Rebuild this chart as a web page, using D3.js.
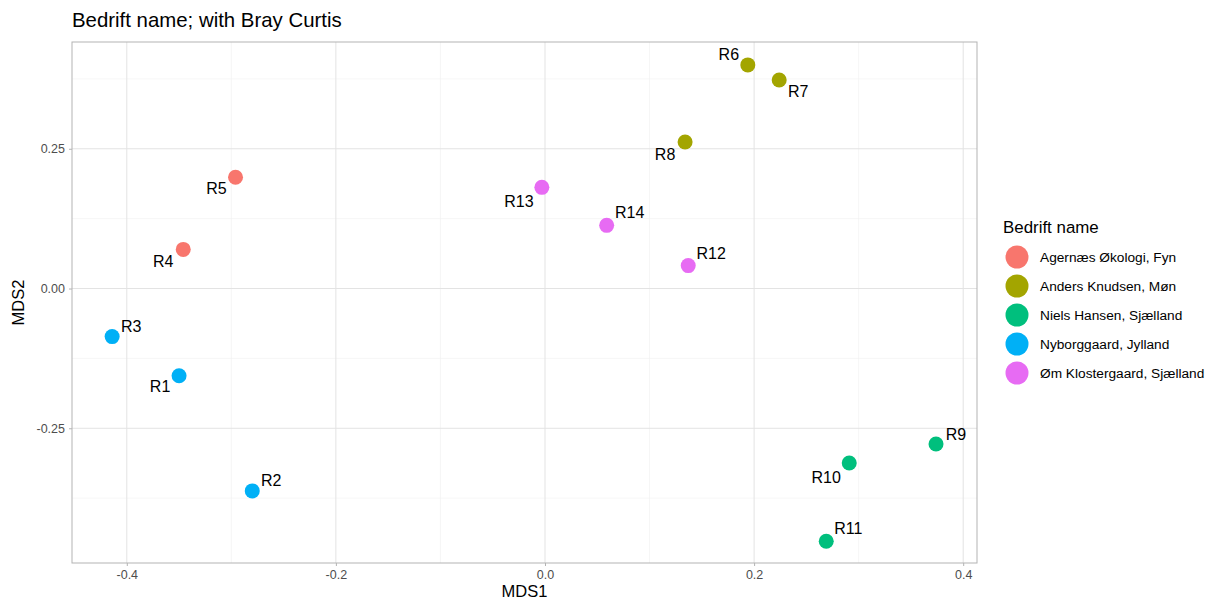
<!DOCTYPE html>
<html><head><meta charset="utf-8">
<script src="https://cdn.jsdelivr.net/npm/d3@7"></script>
<style>
body{margin:0;background:#fff;}
text{font-family:"Liberation Sans",Arial,sans-serif;}
</style></head>
<body><svg id="c" width="1211" height="602"></svg>
<script>
const samples = ["R1","R2","R3","R4","R5","R6","R7","R8","R9","R10","R11","R12","R13","R14"];
const mds1 = [-0.350,-0.280,-0.414,-0.346,-0.296,0.194,0.224,0.134,0.374,0.291,0.269,0.137,-0.003,0.059];
const mds2 = [-0.156,-0.362,-0.086,0.070,0.199,0.400,0.373,0.262,-0.278,-0.312,-0.452,0.041,0.181,0.113];
const groupOf = ["Nyborggaard, Jylland","Nyborggaard, Jylland","Nyborggaard, Jylland",
  "Agernæs Økologi, Fyn","Agernæs Økologi, Fyn",
  "Anders Knudsen, Møn","Anders Knudsen, Møn","Anders Knudsen, Møn",
  "Niels Hansen, Sjælland","Niels Hansen, Sjælland","Niels Hansen, Sjælland",
  "Øm Klostergaard, Sjælland","Øm Klostergaard, Sjælland","Øm Klostergaard, Sjælland"];
const groups = ["Agernæs Økologi, Fyn","Anders Knudsen, Møn","Niels Hansen, Sjælland","Nyborggaard, Jylland","Øm Klostergaard, Sjælland"];
const groupColors = ["#F8766D","#A3A500","#00BF7D","#00B0F6","#E76BF3"];
const xTicks = [-0.4,-0.2,0.0,0.2,0.4];
const yTicks = [-0.25,0.00,0.25];
const xMinor = [-0.3,-0.1,0.1,0.3];
const yMinor = [-0.375,-0.125,0.125,0.375];
// label nudges in pixels (repel-style placement)
const labelDx = [-19,19,19,-20,-19,-19,19,-20,20,-23,22,23,-23,23];
const labelDy = [11,-10,-10,12,11,-11,11,12,-10,14,-13,-12,14,-13];

const svg = d3.select("#c");
const L=72, R=977, T=42, B=563;
const x = d3.scaleLinear().domain([-0.4524,0.4132]).range([L,R]);
const y = d3.scaleLinear().domain([-0.491,0.441]).range([B,T]);
const color = d3.scaleOrdinal().domain(groups).range(groupColors);

// title
svg.append("text").attr("x",L).attr("y",27).attr("font-size",20.4).attr("fill","#000").text("Bedrift name; with Bray Curtis");

// grid
const g = svg.append("g");
g.selectAll(".xm").data(xMinor).join("line").attr("x1",d=>x(d)).attr("x2",d=>x(d)).attr("y1",T).attr("y2",B).attr("stroke","#f0f0f0").attr("stroke-width",0.6);
g.selectAll(".ym").data(yMinor).join("line").attr("y1",d=>y(d)).attr("y2",d=>y(d)).attr("x1",L).attr("x2",R).attr("stroke","#f0f0f0").attr("stroke-width",0.6);
g.selectAll(".xM").data(xTicks).join("line").attr("x1",d=>x(d)).attr("x2",d=>x(d)).attr("y1",T).attr("y2",B).attr("stroke","#e3e3e3").attr("stroke-width",1);
g.selectAll(".yM").data(yTicks).join("line").attr("y1",d=>y(d)).attr("y2",d=>y(d)).attr("x1",L).attr("x2",R).attr("stroke","#e3e3e3").attr("stroke-width",1);

// axes
const xa = svg.append("g").attr("transform",`translate(0,${B})`)
  .call(d3.axisBottom(x).tickValues(xTicks).tickFormat(d3.format(".1f")).tickSizeInner(3).tickSizeOuter(0).tickPadding(4));
const ya = svg.append("g").attr("transform",`translate(${L},0)`)
  .call(d3.axisLeft(y).tickValues(yTicks).tickFormat(d3.format(".2f")).tickSizeInner(3).tickSizeOuter(0).tickPadding(4));
[xa,ya].forEach(a=>{
  a.select(".domain").remove();
  a.selectAll(".tick line").attr("stroke","#b3b3b3");
  a.selectAll(".tick text").attr("fill","#4d4d4d").attr("font-size",12.5).attr("font-family","Liberation Sans, Arial, sans-serif");
});
xa.selectAll(".tick text").text(d=>d3.format(".1f")(d).replace("−","-"));
ya.selectAll(".tick text").text(d=>d3.format(".2f")(d).replace("−","-"));

// panel border
svg.append("rect").attr("x",L).attr("y",T).attr("width",R-L).attr("height",B-T).attr("fill","none").attr("stroke","#b3b3b3").attr("stroke-width",1);

// axis titles
svg.append("text").attr("x",(L+R)/2).attr("y",597).attr("text-anchor","middle").attr("font-size",16.5).text("MDS1");
svg.append("text").attr("transform",`translate(24,${(T+B)/2}) rotate(-90)`).attr("text-anchor","middle").attr("font-size",16.5).text("MDS2");

// points
const data = samples.map((s,i)=>({s, x:mds1[i], y:mds2[i], g:groupOf[i], dx:labelDx[i], dy:labelDy[i]}));
svg.append("g").selectAll("circle").data(data).join("circle")
  .attr("cx",d=>x(d.x)).attr("cy",d=>y(d.y)).attr("r",7.5).attr("fill",d=>color(d.g));
svg.append("g").selectAll("text").data(data).join("text")
  .attr("x",d=>x(d.x)+d.dx).attr("y",d=>y(d.y)+d.dy).attr("dy","0.35em")
  .attr("text-anchor","middle").attr("font-size",16).attr("fill","#000").text(d=>d.s);

// legend
const lg = svg.append("g");
lg.append("text").attr("x",1003).attr("y",233).attr("font-size",16.9).text("Bedrift name");
const items = lg.selectAll(".it").data(groups).join("g").attr("transform",(d,i)=>`translate(1017,${257+i*29})`);
items.append("circle").attr("r",11.5).attr("fill",d=>color(d));
items.append("text").attr("x",23).attr("dy","0.35em").attr("font-size",13.7).text(d=>d);
</script></body></html>
